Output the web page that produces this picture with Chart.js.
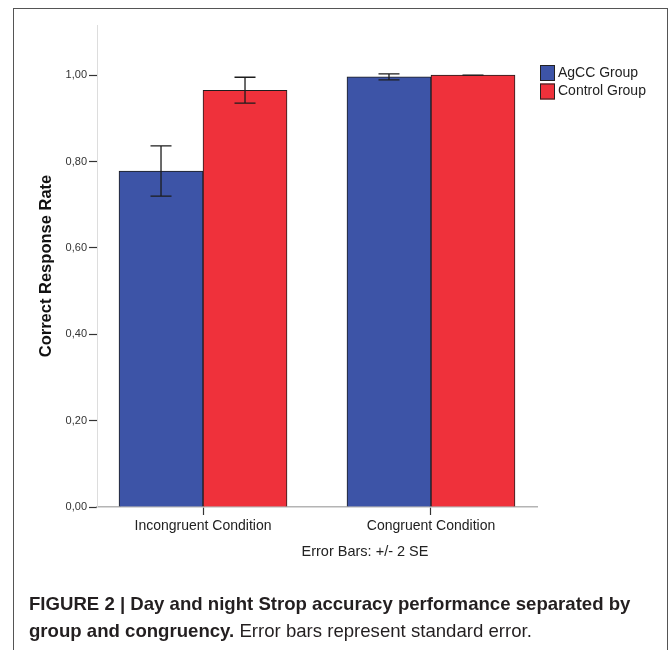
<!DOCTYPE html>
<html>
<head>
<meta charset="utf-8">
<script src="https://cdn.jsdelivr.net/npm/chart.js@4.4.0/dist/chart.umd.min.js"></script>
<style>
  html, body { margin: 0; padding: 0; background: #ffffff; }
  #wrap { width: 669px; height: 650px; position: relative; }
  canvas { display: block; }
</style>
</head>
<body>
<div id="wrap"><canvas id="chart" width="669" height="650"></canvas></div>
<script>
// Stroop accuracy by condition and group
const conditions = ['Incongruent Condition', 'Congruent Condition'];
const groups = ['AgCC Group', 'Control Group'];
const agccRate = [0.778, 0.996];
const controlRate = [0.965, 1.000];
// half-length of the error bars (2 SE)
const agccErr = [0.058, 0.007];
const controlErr = [0.030, 0.000];
const yTicks = [0, 0.2, 0.4, 0.6, 0.8, 1.0];
const yTitle = 'Correct Response Rate';
const noteText = 'Error Bars: +/- 2 SE';
const captionLine1 = 'FIGURE 2 | Day and night Strop accuracy performance separated by';
const captionLine2Bold = 'group and congruency.';
const captionLine2Rest = ' Error bars represent standard error.';

const BLUE = '#3d54a7';
const RED = '#ef313b';
const SANS = "'Liberation Sans', Arial, Helvetica, sans-serif";

const toPoints = (vals) => vals.map((v, i) => ({ x: i + 1, y: v }));

const extras = {
  id: 'extras',
  afterDatasetsDraw(chart) {
    const { ctx } = chart;
    const ys = chart.scales.y;
    const errs = [agccErr, controlErr];
    ctx.save();
    ctx.strokeStyle = '#1c1c1c';
    ctx.lineWidth = 1.3;
    chart.data.datasets.forEach((ds, di) => {
      const meta = chart.getDatasetMeta(di);
      meta.data.forEach((bar, i) => {
        const v = ds.data[i].y;
        const e = errs[di][i];
        const yHi = ys.getPixelForValue(v + e);
        const yLo = ys.getPixelForValue(v - e);
        const cap = 10.5;
        ctx.beginPath();
        ctx.moveTo(bar.x, yHi); ctx.lineTo(bar.x, yLo);
        ctx.moveTo(bar.x - cap, yHi); ctx.lineTo(bar.x + cap, yHi);
        ctx.moveTo(bar.x - cap, yLo); ctx.lineTo(bar.x + cap, yLo);
        ctx.stroke();
      });
    });
    ctx.restore();
  },
  afterDraw(chart) {
    const { ctx, chartArea } = chart;
    ctx.save();
    // frame around the figure
    ctx.strokeStyle = '#555555';
    ctx.lineWidth = 1;
    ctx.strokeRect(13.5, 8.5, 654, 700);

    // legend
    const lx = chartArea.right + 3;
    let ly = chartArea.top + 40;
    chart.data.datasets.forEach((ds) => {
      ctx.fillStyle = ds.backgroundColor;
      ctx.fillRect(lx, ly, 15, 16);
      ctx.strokeStyle = '#222222';
      ctx.lineWidth = 1;
      ctx.strokeRect(lx + 0.5, ly + 0.5, 14, 15);
      ctx.fillStyle = '#222222';
      ctx.font = '14px ' + SANS;
      ctx.textAlign = 'left';
      ctx.textBaseline = 'middle';
      ctx.fillText(ds.label, lx + 18, ly + 8);
      ly += 18.5;
    });

    // error bar note under the axis
    ctx.fillStyle = '#222222';
    ctx.font = '14.5px ' + SANS;
    ctx.textAlign = 'center';
    ctx.textBaseline = 'middle';
    ctx.fillText(noteText, 365, 552);

    // figure caption
    ctx.fillStyle = '#231f20';
    ctx.textAlign = 'left';
    ctx.textBaseline = 'middle';
    ctx.font = 'bold 18.6px ' + SANS;
    ctx.fillText(captionLine1, 29, 605);
    ctx.fillText(captionLine2Bold, 29, 632);
    const w = ctx.measureText(captionLine2Bold).width;
    ctx.font = '18.6px ' + SANS;
    ctx.fillText(captionLine2Rest, 29 + w, 632);
    ctx.restore();
  }
};

new Chart(document.getElementById('chart'), {
  type: 'bar',
  data: {
    datasets: [
      {
        label: groups[0],
        data: toPoints(agccRate),
        backgroundColor: BLUE,
        borderColor: '#1e1e1e',
        borderWidth: 1,
        barThickness: 84
      },
      {
        label: groups[1],
        data: toPoints(controlRate),
        backgroundColor: RED,
        borderColor: '#1e1e1e',
        borderWidth: 1,
        barThickness: 84
      }
    ]
  },
  options: {
    responsive: false,
    devicePixelRatio: 1,
    animation: false,
    layout: { padding: { left: 0, right: 132, top: 25, bottom: 0 } },
    plugins: { legend: { display: false }, tooltip: { enabled: false } },
    scales: {
      x: {
        type: 'linear',
        offset: false,
        min: 0.535,
        max: 2.465,
        afterBuildTicks: (s) => { s.ticks = conditions.map((c, i) => ({ value: i + 1 })); },
        afterFit: (s) => { s.height = 143; },
        grid: { offset: false, drawOnChartArea: false, tickLength: 8, tickColor: '#333333', tickWidth: 1.2 },
        border: { color: '#b4b4b4', width: 1.5 },
        ticks: {
          padding: 3,
          color: '#222222',
          font: { family: SANS, size: 14 },
          maxRotation: 0,
          callback: (v) => conditions[Math.round(v) - 1]
        }
      },
      y: {
        min: 0,
        max: 1.116,
        afterBuildTicks: (s) => { s.ticks = yTicks.map((v) => ({ value: v })); },
        afterFit: (s) => { s.width = 97; },
        grid: { drawOnChartArea: false, tickLength: 8, tickColor: '#333333', tickWidth: 1.2 },
        border: { color: '#dddddd', width: 1 },
        ticks: {
          padding: 2,
          color: '#333333',
          font: { family: SANS, size: 11 },
          callback: (v) => v.toFixed(2).replace('.', ',')
        },
        title: {
          display: true,
          text: yTitle,
          color: '#111111',
          font: { family: SANS, size: 16.5, weight: 'bold' },
          padding: { top: 36.5, bottom: 0 }
        }
      }
    }
  },
  plugins: [extras]
});
</script>
</body>
</html>
